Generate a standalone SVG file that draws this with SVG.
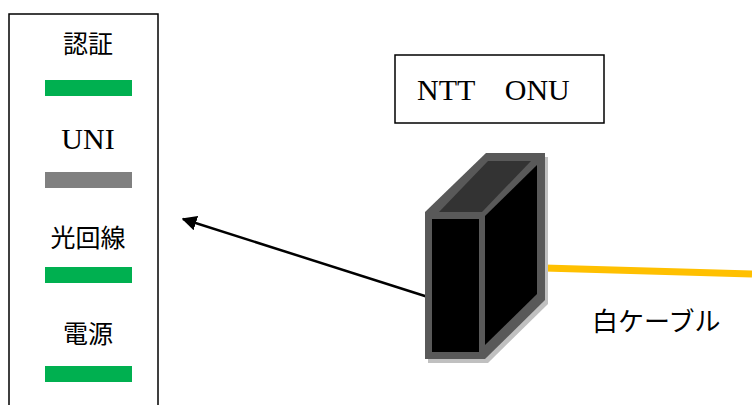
<svg xmlns="http://www.w3.org/2000/svg" width="752" height="405" viewBox="0 0 752 405">
<style>
.t{font-family:"Liberation Serif","Noto Sans CJK JP",serif;fill:#000;}
.jp{font-size:25px;text-anchor:middle;}
.en{font-size:30px;}
.box{fill:#fff;stroke:#000;stroke-width:1.5;}
.led-g{fill:#00B050;}
.led-x{fill:#808080;}
</style>
<defs>
<marker id="ah" viewBox="0 0 10 10" refX="9" refY="5" markerWidth="6" markerHeight="6" markerUnits="strokeWidth" orient="auto">
<path d="M0,0 L10,5 L0,10 z" fill="#000"/>
</marker>
</defs>
<g id="panel">
<rect class="box" x="9" y="14" width="149" height="400"/>
<text class="t jp" x="88" y="53">認証</text>
<rect class="led-g" x="45" y="80" width="87" height="16"/>
<text class="t en" x="88" y="149" text-anchor="middle">UNI</text>
<rect class="led-x" x="45" y="172" width="87" height="16"/>
<text class="t jp" x="88" y="247">光回線</text>
<rect class="led-g" x="45" y="267" width="87" height="16"/>
<text class="t jp" x="88" y="343">電源</text>
<rect class="led-g" x="45" y="366" width="87" height="16"/>
</g>
<g id="label-onu">
<rect class="box" x="395" y="55" width="209" height="68"/>
<text class="t en" x="417" y="100">NTT　ONU</text>
</g>
<g id="connectors">
<line x1="752" y1="274" x2="544" y2="268" stroke="#FFC000" stroke-width="7"/>
<line x1="428" y1="297" x2="183" y2="219" stroke="#000" stroke-width="2.5" marker-end="url(#ah)"/>
</g>
<g id="onu-device">
<polygon points="425,212 486,153 545,153 545,300 485,359 425,359" fill="#c0c0c0" transform="translate(3,4)"/>
<polygon points="425,212 486,153 545,153 545,300 485,359 425,359" fill="#595959"/>
<polygon points="432,219 479,219 479,352 432,352" fill="#000"/>
<polygon points="439,212 488,161 531,161 482,212" fill="#333333"/>
<polygon points="485,216 537,165 537,294 485,345" fill="#000"/>
</g>
<g id="label-cable">
<text class="t" x="592" y="331" font-size="26">白ケーブル</text>
</g>
</svg>
